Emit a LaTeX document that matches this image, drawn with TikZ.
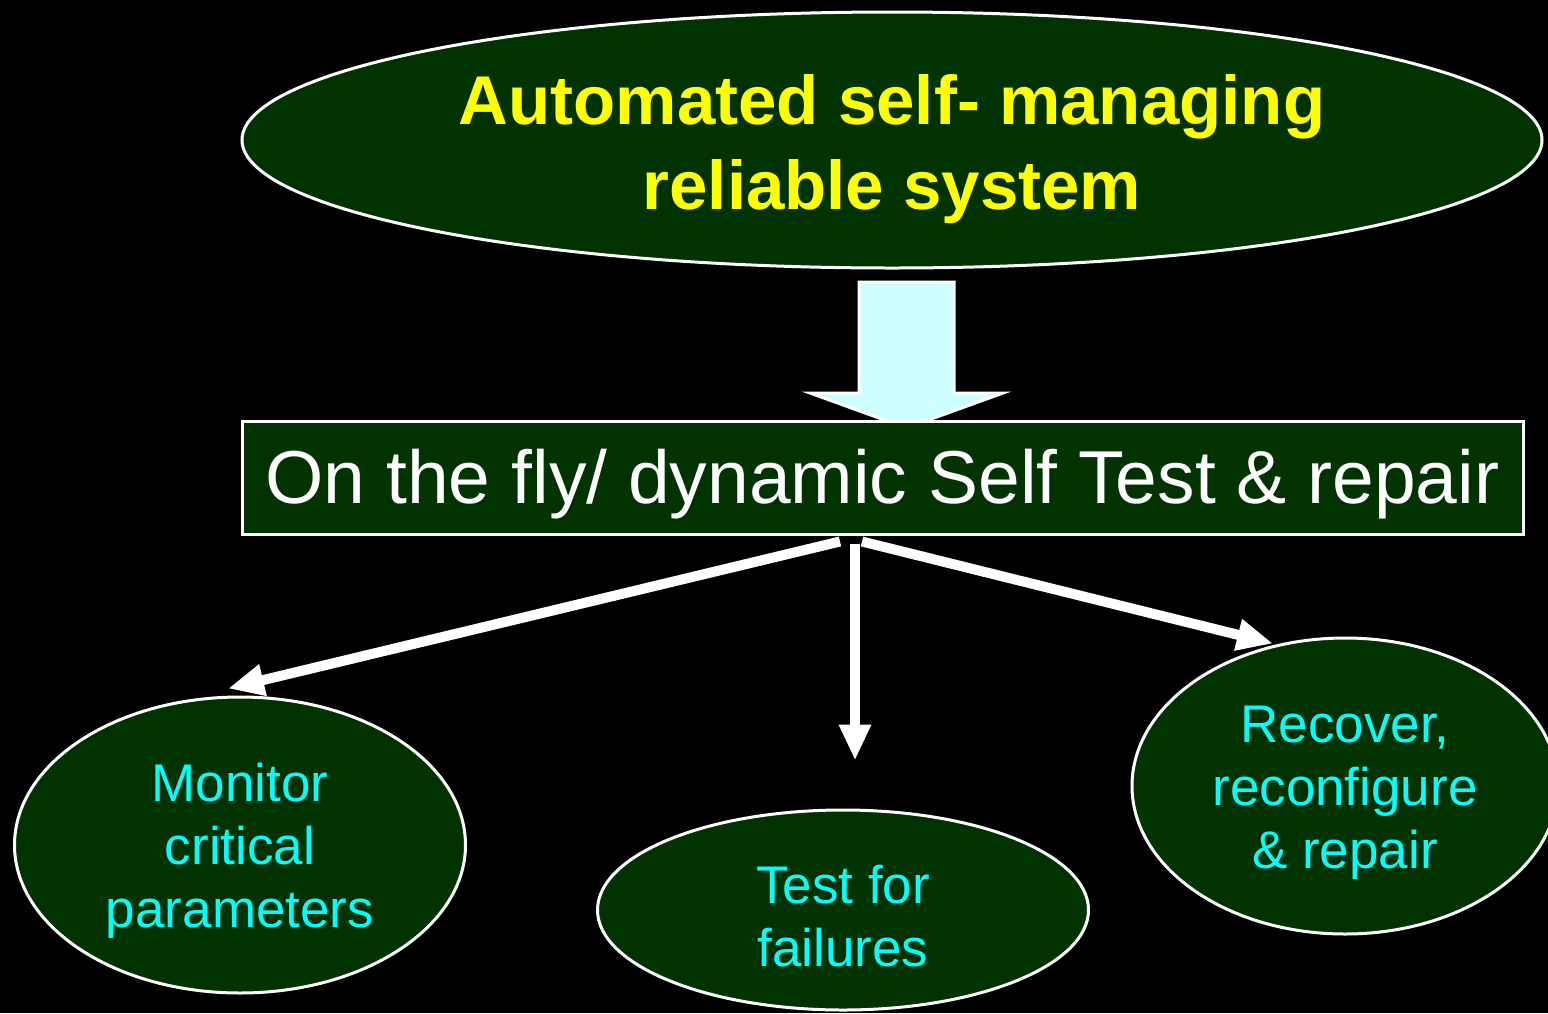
\documentclass[tikz,border=0pt]{standalone}
\usepackage{fontspec}
\setmainfont{Liberation Sans}
\usetikzlibrary{shapes.geometric,arrows.meta}
\definecolor{dkgreen}{HTML}{003300}
\definecolor{ltcyan}{HTML}{CCFFFF}
\definecolor{txtcyan}{HTML}{00FFFF}
\definecolor{txtyellow}{HTML}{FFFF00}
\begin{document}
\begin{tikzpicture}[x=1pt,y=-1pt,
  oval/.style={ellipse, draw=white, line width=3pt, fill=dkgreen, inner sep=0pt},
  leaftext/.style={inner sep=0pt, align=center, text=txtcyan, font=\fontsize{53}{63}\selectfont},
  link/.style={draw=white, line width=10pt, -{Triangle[length=36pt,width=30pt]}},
  bigarrow/.style={fill=ltcyan, draw=white, line width=3pt, line join=miter},
  boxnode/.style={rectangle, draw=white, line width=3pt, fill=dkgreen, inner sep=0pt}
]
\fill[black] (0,0) rectangle (1548,1013);
\useasboundingbox (0,0) rectangle (1548,1013);

\node[oval, minimum width=1300pt, minimum height=256pt] (top) at (892,140) {};
\node[inner sep=0pt, align=center, text=txtyellow,
      font=\fontsize{69}{85}\selectfont\bfseries] (toptext) at (892,149)
      {Automated self- managing\\reliable system};

\draw[bigarrow] (859,282) -- (954,282) -- (954,393) -- (1003,393) -- (906.5,428)
      -- (810,393) -- (859,393) -- cycle;

\node[boxnode, minimum width=1281pt, minimum height=113pt] (rect) at (882.5,477.5) {};
\node[inner sep=0pt, text=white, font=\fontsize{75}{88}\selectfont] (recttext) at (882.5,484.5)
      {On the fly/ dynamic Self Test \& repair};

\node[oval, minimum width=451pt, minimum height=296pt] (mon) at (240,845) {};
\node[leaftext] (montext) at (240,851) {Monitor\\critical\\parameters};
\node[oval, minimum width=491pt, minimum height=200pt] (mid) at (843,910) {};
\node[leaftext] (midtext) at (843,916) {Test for\\failures};
\node[oval, minimum width=426pt, minimum height=296pt] (rec) at (1345,786) {};
\node[leaftext] (rectext) at (1345,793) {Recover,\\reconfigure\\\& repair};

\draw[link] ([xshift=-42.5pt,yshift=-6pt]rect.south) -- ([xshift=-12pt,yshift=7pt]mon.north);
\draw[link, line cap=butt] ([xshift=-27.5pt,yshift=-8pt]rect.south) -- ([xshift=12pt,yshift=48pt]mid.north);
\draw[link] ([xshift=-20.5pt,yshift=-6pt]rect.south) -- ([xshift=-72pt,yshift=-7pt]rec.north);
\end{tikzpicture}
\end{document}
